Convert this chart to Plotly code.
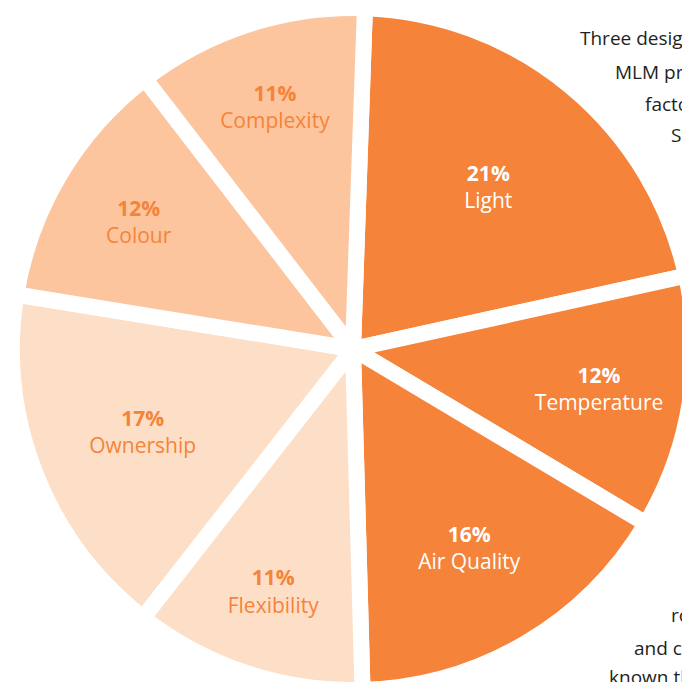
import plotly.graph_objects as go

labels = ["Light", "Temperature", "Air Quality", "Flexibility", "Ownership", "Colour", "Complexity"]
values = [21, 12, 16, 11, 17, 12, 11]
slice_colors = ["#F5833A", "#F5833A", "#F5833A", "#FDDFC7", "#FDDFC7", "#FCC59D", "#FCC59D"]
text_colors = ["#FFFFFF", "#FFFFFF", "#FFFFFF", "#F5833A", "#F5833A", "#F5833A", "#F5833A"]

side_text_top = ["Three desig", "MLM pr", "facto", "Sc"]
side_text_bottom = ["ro", "and c", "known th"]

W, H = 690, 682
OFF = 8  # page body offset

fig = go.Figure(go.Pie(
    labels=labels,
    values=values,
    sort=False,
    direction="clockwise",
    rotation=2,
    marker=dict(colors=slice_colors, line=dict(color="#FFFFFF", width=16)),
    texttemplate="<b>%{value}%</b><br>%{label}",
    textposition="inside",
    insidetextorientation="horizontal",
    insidetextfont=dict(color=text_colors, size=21, family="Open Sans"),
    hoverinfo="label+value",
    showlegend=False,
    domain=dict(x=[0, 1], y=[0, 1]),
))

annotations = []
top_pos = [(578, 38), (613, 72), (643, 104), (669, 135)]
bottom_pos = [(669, 615), (632, 648), (607, 677)]
for txt, (px, py) in zip(side_text_top + side_text_bottom, top_pos + bottom_pos):
    annotations.append(dict(text=txt, x=(px - OFF) / W, y=1 - (py - OFF) / H,
                            xref="paper", yref="paper",
                            xanchor="left", yanchor="middle", showarrow=False,
                            font=dict(size=19, color="#231F20", family="Open Sans")))

fig.update_layout(
    width=W, height=H,
    margin=dict(l=0, r=0, t=0, b=0),
    paper_bgcolor="#FFFFFF",
    plot_bgcolor="#FFFFFF",
    annotations=annotations,
    uniformtext=dict(minsize=21, mode="show"),
)

fig.write_html("out.html")
